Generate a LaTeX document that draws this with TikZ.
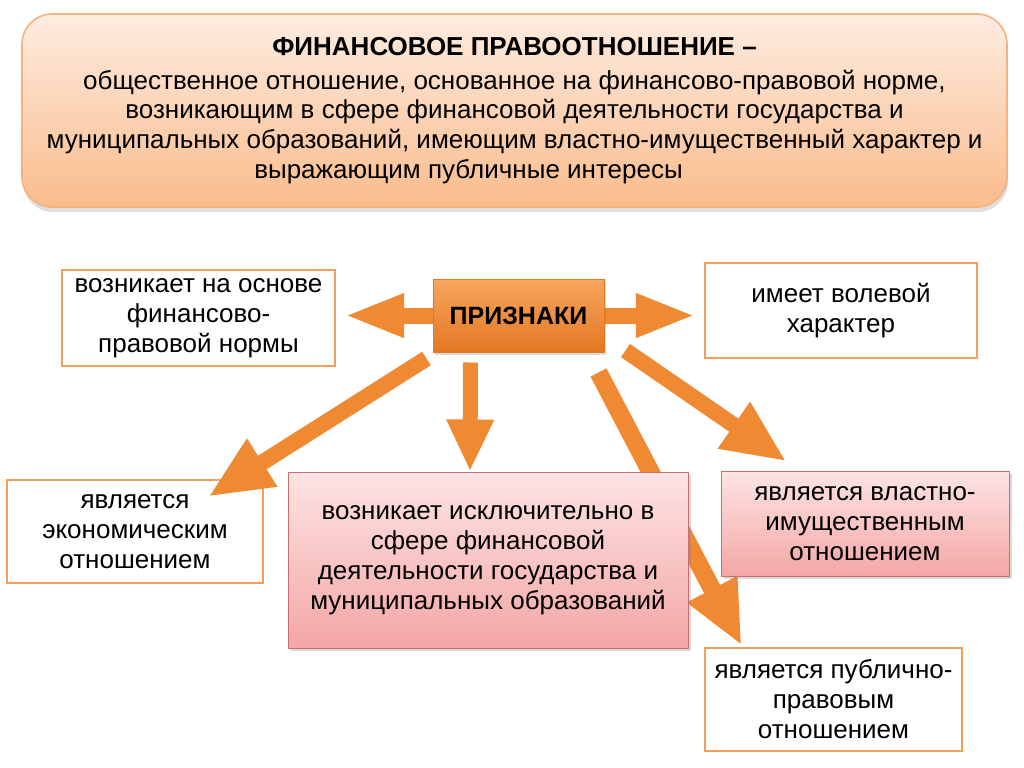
\documentclass[tikz,border=0pt]{standalone}
\usepackage{fontspec}
\setmainfont{Liberation Sans}
\usetikzlibrary{arrows.meta,shadows,calc,backgrounds}

\definecolor{arroworange}{RGB}{239,137,50}
\definecolor{frameorange}{RGB}{245,160,90}
\definecolor{toptop}{RGB}{253,236,224}
\definecolor{topbot}{RGB}{250,188,140}
\definecolor{topedge}{RGB}{243,178,130}
\definecolor{priztop}{RGB}{247,166,92}
\definecolor{prizbot}{RGB}{226,120,36}
\definecolor{pinktop}{RGB}{253,228,228}
\definecolor{pinkbot}{RGB}{244,166,166}
\definecolor{pinkedge}{RGB}{200,110,110}

\tikzset{
    boxtext/.style={align=center, font=\fontsize{13}{15}\selectfont},
    framebox/.style={boxtext, draw=frameorange, line width=1.2pt, fill=white},
    pinkbox/.style={boxtext, draw=pinkedge, line width=0.5pt, top color=pinktop, bottom color=pinkbot,
        drop shadow={opacity=0.3, shadow xshift=1.5pt, shadow yshift=-1.5pt}},
    bigarrow/.style={draw=arroworange, line width=8pt, -{Triangle[length=32pt,width=26pt]}},
}

\begin{document}
\begin{tikzpicture}[x=0.5pt, y=-0.5pt]
    \useasboundingbox (0,0) rectangle (1024,767);

    % definition
    \node [draw=topedge, line width=0.8pt, rounded corners=15pt, top color=toptop, bottom color=topbot,
        minimum width=492.5pt, minimum height=96.5pt, align=center, font=\fontsize{13}{14.8}\selectfont,
        drop shadow={opacity=0.25, shadow xshift=0.5pt, shadow yshift=-2.5pt}]
        (def) at (514.5,110.5) {\textbf{ФИНАНСОВОЕ ПРАВООТНОШЕНИЕ –}\\[2pt]
        общественное отношение, основанное на финансово-правовой норме,\\
        возникающим в сфере финансовой деятельности государства и\\
        муниципальных образований, имеющим властно-имущественный характер и\\
        выражающим публичные интересы\hspace*{46pt}};

    % signs
    \node [draw=prizbot, line width=0.5pt, top color=priztop, bottom color=prizbot,
        minimum width=85.5pt, minimum height=36.5pt, font=\fontsize{12.5}{14}\bfseries,
        drop shadow={opacity=0.3, shadow xshift=1pt, shadow yshift=-1.5pt}]
        (priz) at (518.5,315.5) {ПРИЗНАКИ};

    \node [framebox, minimum width=136.5pt, minimum height=48pt] (norm) at (198.5,318)
        {возникает на основе\\ финансово-\\ правовой нормы};
    \node [framebox, minimum width=136pt, minimum height=47.5pt] (will) at (841,310.5)
        {имеет волевой\\ характер};
    \node [framebox, minimum width=128pt, minimum height=51.5pt] (econ) at (135,531.5)
        {является\\ экономическим\\ отношением};
    \node [pinkbox, minimum width=200pt, minimum height=88pt] (sphere) at (488,560)
        {возникает исключительно в\\ сфере финансовой\\ деятельности государства и\\ муниципальных образований};
    \node [pinkbox, minimum width=144pt, minimum height=52.5pt] (power) at (865,523.5)
        {является властно-\\ имущественным\\ отношением};
    \node [framebox, minimum width=128.5pt, minimum height=51.5pt] (public) at (833.5,699.5)
        {является публично-\\ правовым\\ отношением};

    % arrows
    \begin{pgfonlayer}{background}
        \draw [draw=arroworange, line width=8pt, {Triangle[length=30pt,width=20pt]}-{Triangle[length=30pt,width=20pt]}]
            ($(norm.east |- priz.center)+(4pt,0)$) -- ($(will.west |- priz.center)+(-4pt,0)$);
        \draw [bigarrow, line width=7.5pt, -{Triangle[length=26pt,width=22pt]}]
            ([xshift=-24pt,yshift=-5pt]priz.south) -- ([xshift=-9pt]sphere.north);
        \draw [bigarrow] ([xshift=10.5pt,yshift=1pt]priz.south east) -- ([xshift=33pt,yshift=4.5pt]power.north west);
        \draw [bigarrow, line width=9pt] ([xshift=-3pt,yshift=-10pt]priz.south east) -- ([xshift=19pt,yshift=0.5pt]public.north west);
    \end{pgfonlayer}
    \draw [bigarrow] ([xshift=-3pt,yshift=-3pt]priz.south west) -- ([xshift=-28pt,yshift=-9pt]econ.north east);

\end{tikzpicture}
\end{document}
